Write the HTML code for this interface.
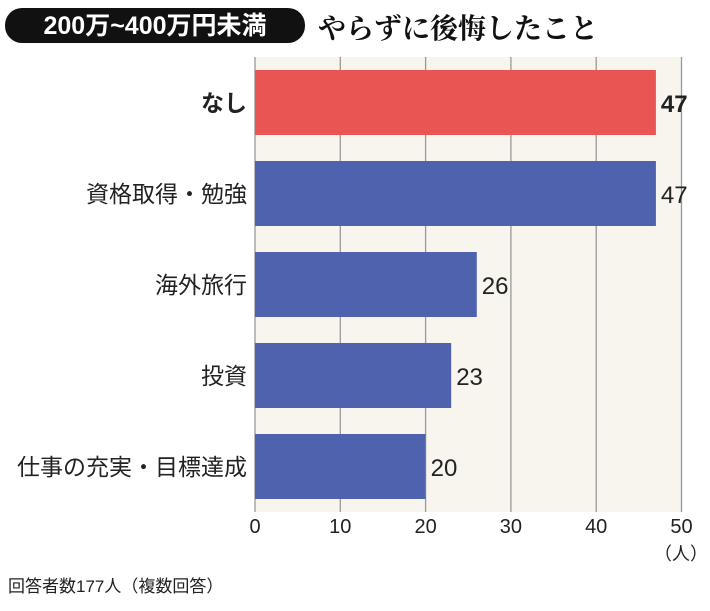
<!DOCTYPE html>
<html><head><meta charset="utf-8"><style>
body{margin:0;background:#fff;width:710px;height:606px;overflow:hidden;font-family:"Liberation Sans","Noto Sans CJK JP",sans-serif;}
</style></head><body>
<svg width="710" height="606">
<rect x="5" y="8" width="300" height="35" rx="17" fill="#111"/>
<text x="155" y="34" text-anchor="middle" fill="#fff" font-size="25" font-weight="bold" font-family="Liberation Sans,Noto Sans CJK JP,sans-serif">200万~400万円未満</text>
<text x="318" y="38" fill="#111" font-size="28" font-weight="bold" font-family="Liberation Serif,Noto Serif CJK SC,serif">やらずに後悔したこと</text>
<rect x="255" y="57" width="427" height="455" fill="#f7f5ee"/>
<g id="grid"></g><g id="bars"></g><g id="labels"></g>
<text x="681" y="560" text-anchor="middle" font-size="18" fill="#222">（人）</text>
<text x="8" y="592" font-size="17" fill="#222">回答者数177人（複数回答）</text>
</svg>
<script>
const categories=["なし","資格取得・勉強","海外旅行","投資","仕事の充実・目標達成"];
const values=[47,47,26,23,20];
const ticks=[0,10,20,30,40,50];
const ns="http://www.w3.org/2000/svg";
const x=v=>255+v*8.53;
const y=i=>70+i*91;
function mk(t,a,p){const e=document.createElementNS(ns,t);for(const k in a)e.setAttribute(k,a[k]);p.appendChild(e);return e;}
const g=document.getElementById('grid'),b=document.getElementById('bars'),l=document.getElementById('labels');
ticks.forEach(t=>{
 const ln=mk('line',{x1:x(t),x2:x(t),y1:57,y2:512,stroke:'#999','stroke-width':1.3},g);
 
 
 const tx=mk('text',{x:x(t),y:533,'text-anchor':'middle','font-size':20,fill:'#222'},g);
 tx.textContent=t;
 
 
});
categories.forEach((c,i)=>{
 const r=mk('rect',{x:255,y:y(i),width:x(values[i])-255,height:65,fill:i==0?'#e85552':'#4f62ad'},b);
 
 
 const cl=mk('text',{x:247,y:y(i)+41,'text-anchor':'end','font-size':23,fill:'#222','font-weight':i==0?'bold':'normal'},l);
 cl.textContent=c;
 
 
 const vl=mk('text',{x:x(values[i])+5,y:y(i)+42,'font-size':24,fill:'#222','font-weight':i==0?'bold':'normal'},l);
 vl.textContent=values[i];
 
 
});
</script>
</body></html>
